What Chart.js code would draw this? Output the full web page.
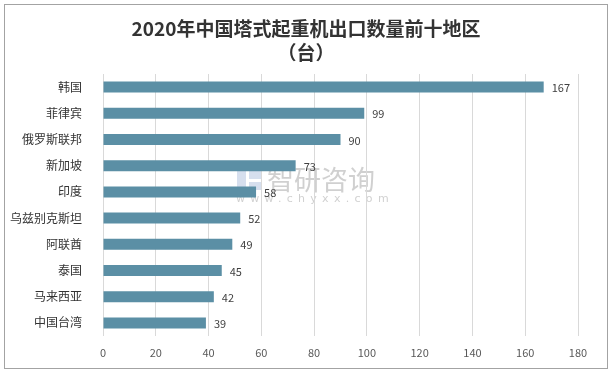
<!DOCTYPE html>
<html>
<head>
<meta charset="utf-8">
<script src="https://cdn.jsdelivr.net/npm/chart.js@4"></script>
<style>
  html, body { margin: 0; padding: 0; background: #fff; }
  #wrap { position: relative; width: 613px; height: 374px; }
  #frame { position: absolute; left: 4px; top: 4px; width: 602px; height: 363px; border: 1px solid #a3a3a3; pointer-events: none; }
  canvas { position: absolute; left: 0; top: 0; }
</style>
</head>
<body>
<div id="wrap">
  <canvas id="chart" width="613" height="374"></canvas>
  <div id="frame"></div>
</div>
<script>
const titleLines = ["2020年中国塔式起重机出口数量前十地区", "（台）"];
const regions = ["韩国", "菲律宾", "俄罗斯联邦", "新加坡", "印度", "乌兹别克斯坦", "阿联酋", "泰国", "马来西亚", "中国台湾"];
const counts = [167, 99, 90, 73, 58, 52, 49, 45, 42, 39];
const xTicks = [0, 20, 40, 60, 80, 100, 120, 140, 160, 180];

const cjk = '"Noto Sans CJK SC", "Microsoft YaHei", sans-serif';

// title and watermark drawn by hand, chart area is fixed with padding
const extras = {
    id: "extras",
    beforeDraw(chart) {
        const ctx = chart.ctx;
        ctx.save();
        ctx.fillStyle = "#333";
        ctx.textAlign = "center";
        ctx.textBaseline = "middle";
        ctx.font = "bold 19px " + cjk;
        ctx.fillText(titleLines[0], 306, 29);
        ctx.fillText(titleLines[1], 306, 53);

        // watermark
        ctx.fillStyle = "rgba(150,150,150,0.45)";
        ctx.textAlign = "left";
        ctx.font = "27px " + cjk;
        ctx.fillText("智研咨询", 267, 180);
        ctx.font = "11px DejaVu Sans, sans-serif";
        ctx.letterSpacing = "5.3px";
        ctx.fillText("www.chyxx.com", 236, 199);
        ctx.fillStyle = "rgba(120,150,200,0.3)";
        ctx.fillRect(237, 170, 9, 20);
        ctx.fillRect(249, 170, 12, 9);
        ctx.fillRect(249, 182, 12, 8);
        ctx.restore();
    },
    afterDatasetsDraw(chart) {
        const ctx = chart.ctx;
        const meta = chart.getDatasetMeta(0);
        ctx.save();
        ctx.fillStyle = "#404040";
        ctx.font = "11px " + cjk;
        ctx.textAlign = "left";
        ctx.textBaseline = "middle";
        meta.data.forEach((bar, i) => {
            ctx.fillText(counts[i], bar.x + 8, bar.y + 1);
        });
        ctx.restore();
    }
};

new Chart(document.getElementById("chart"), {
    type: "bar",
    data: {
        labels: regions,
        datasets: [{
            data: counts,
            backgroundColor: "#5b8fa5",
            barPercentage: 0.42,
            categoryPercentage: 1
        }]
    },
    options: {
        indexAxis: "y",
        responsive: false,
        animation: false,
        layout: { padding: { top: 74, right: 35, bottom: 6, left: 0 } },
        plugins: {
            legend: { display: false },
            tooltip: { enabled: false }
        },
        scales: {
            x: {
                min: 0,
                max: 180,
                afterBuildTicks: s => { s.ticks = xTicks.map(v => ({ value: v })); },
                afterFit: s => { s.height = 32; },
                grid: { color: "#d9d9d9", drawTicks: false },
                border: { display: false },
                ticks: { color: "#595959", padding: 10, font: { size: 11, family: cjk } }
            },
            y: {
                afterFit: s => { s.width = 103; },
                grid: { display: false },
                border: { display: false },
                ticks: { color: "#333", padding: 13, font: { size: 12, family: cjk } }
            }
        }
    },
    plugins: [extras]
});
</script>
</body>
</html>
